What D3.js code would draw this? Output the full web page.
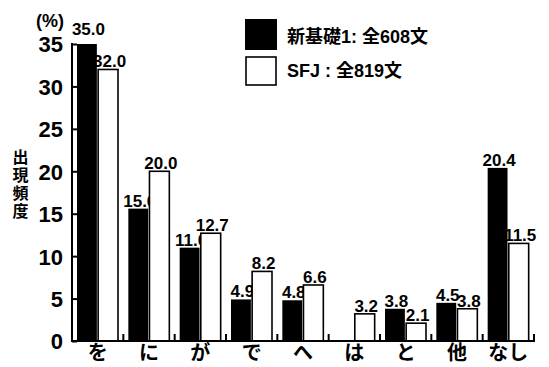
<!DOCTYPE html>
<html><head><meta charset="utf-8">
<script src="https://cdn.jsdelivr.net/npm/d3@7"></script>
<style>
body{margin:0;background:#fff;}
text{font-weight:bold;fill:#000;}
</style></head>
<body><svg id="c" width="549" height="367"></svg>
<script>
const categories = ["を","に","が","で","へ","は","と","他","なし"];
const series1 = [35.0,15.6,11.0,4.9,4.8,null,3.8,4.5,20.4];
const series2 = [32.0,20.0,12.7,8.2,6.6,3.2,2.1,3.8,11.5];
const seriesNames = ["新基礎1: 全608文","SFJ : 全819文"];
const yTicks = [0,5,10,15,20,25,30,35];

const FONT = "'Liberation Sans','Noto Sans CJK JP',sans-serif";
const CJK = "'Noto Sans CJK JP',sans-serif";
const svg = d3.select("#c");
const x = d3.scaleBand().domain(categories).range([72,534]).paddingInner(0).paddingOuter(0);
const y = d3.scaleLinear().domain([0,35]).range([341,44]);
const inner = d3.scaleBand().domain([0,1]).range([5,46]).paddingInner(0.06);
const maxV = d3.max(series1.concat(series2));

// bars
const g = svg.append("g");
categories.forEach((c,i)=>{
  [series1[i],series2[i]].forEach((v,k)=>{
    if(v==null) return;
    const bx = x(c)+inner(k), bw = inner.bandwidth();
    g.append("rect").attr("x",bx).attr("y",y(v)).attr("width",bw).attr("height",y(0)-y(v))
      .attr("fill",k===0?"#000":"#fff").attr("stroke","#000").attr("stroke-width",k===0?0:1.6);
    g.append("text").attr("x",bx+bw/2+1.5).attr("y",y(v)-(v===maxV?9:2)).attr("text-anchor","middle")
      .attr("font-family",FONT).attr("font-size",17).text(v.toFixed(1));
  });
});

// y axis
const yAxis = d3.axisLeft(y).tickValues(yTicks).tickSize(-5).tickPadding(9).tickFormat(d3.format("d"));
const ya = svg.append("g").attr("transform","translate(72,0)").call(yAxis);
ya.select(".domain").attr("stroke","#000").attr("stroke-width",2).attr("d","M0,43V341");
ya.selectAll(".tick line").attr("stroke","#000").attr("stroke-width",2).attr("x2",5);
ya.selectAll(".tick text").attr("font-size",22).attr("font-family",FONT).attr("font-weight","bold").attr("dy","0.36em");

// x axis
const xa = svg.append("g");
xa.append("line").attr("x1",71).attr("x2",535).attr("y1",341).attr("y2",341).attr("stroke","#000").attr("stroke-width",2);
const bounds = categories.map(c=>x(c)).slice(1).concat([x.range()[1]]);
xa.selectAll("line.t").data(bounds).enter().append("line").attr("class","t")
  .attr("x1",d=>d).attr("x2",d=>d).attr("y1",341).attr("y2",334).attr("stroke","#000").attr("stroke-width",2);
xa.selectAll("text").data(categories).enter().append("text")
  .attr("x",d=>x(d)+x.bandwidth()/2).attr("y",360).attr("text-anchor","middle")
  .attr("font-size",20).attr("font-family",CJK).attr("font-weight",900).text(d=>d);

// axis titles
svg.append("text").attr("x",50).attr("y",27).attr("text-anchor","middle").attr("font-family",FONT).attr("font-size",18).text("(%)");
svg.append("text").attr("x",20.5).attr("y",149)
  .style("writing-mode","vertical-rl").style("letter-spacing","2px")
  .attr("font-size",16).attr("font-family",CJK).attr("font-weight",900).text("出現頻度");

// legend
const lg = svg.append("g");
seriesNames.forEach((n,k)=>{
  lg.append("rect").attr("x",k===0?245:246).attr("y",k===0?19:57).attr("width",k===0?32:30).attr("height",k===0?31:28)
    .attr("fill",k===0?"#000":"#fff").attr("stroke","#000").attr("stroke-width",k===0?0:1.6);
  lg.append("text").attr("x",287).attr("y",k===0?43:77).attr("font-family",FONT).attr("font-size",18).attr("font-weight",900).text(n);
});
</script></body></html>
